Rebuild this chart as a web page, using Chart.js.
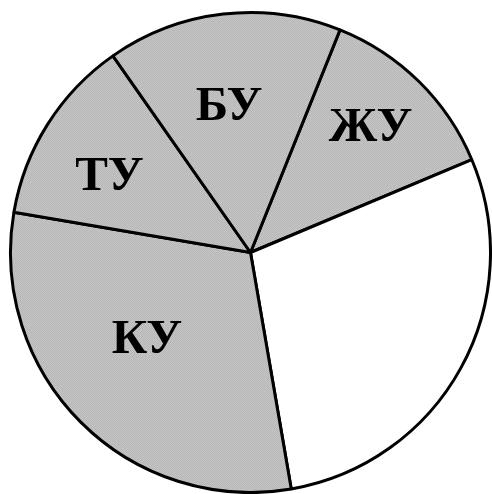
<!DOCTYPE html>
<html>
<head>
<meta charset="utf-8">
<script src="https://cdn.jsdelivr.net/npm/chart.js@4.4.1/dist/chart.umd.min.js"></script>
<style>
  html, body { margin: 0; padding: 0; background: #ffffff; }
  #wrap { width: 492px; height: 494px; position: relative; }
</style>
</head>
<body>
<div id="wrap"><canvas id="c"></canvas></div>
<script>
// Data (clockwise from the ЖУ slice)
const categories = ['ЖУ', '', 'КУ', 'ТУ', 'БУ'];
const shares = [12.6, 28.6, 30.4, 12.6, 15.8];   // percent of the circle

// fine dotted grey texture like the reference
function greyPattern() {
  const p = document.createElement('canvas');
  p.width = 2; p.height = 2;
  const g = p.getContext('2d');
  g.fillStyle = '#c6c6c6'; g.fillRect(0, 0, 2, 2);
  g.fillStyle = '#b6b6b6'; g.fillRect(0, 0, 1, 1); g.fillRect(1, 1, 1, 1);
  return g.createPattern(p, 'repeat');
}
const grey = greyPattern();
const fillColors = [grey, '#ffffff', grey, grey, grey];

// label placement inside each slice: [fraction of the slice angle, fraction of radius]
const labelPlacement = [[0.48, 0.725], null, [0.55, 0.56], [0.42, 0.67], [0.47, 0.62]];

const sliceLabels = {
  id: 'sliceLabels',
  afterDatasetsDraw(chart) {
    const ctx = chart.ctx;
    const meta = chart.getDatasetMeta(0);
    ctx.save();
    ctx.fillStyle = '#000000';
    ctx.font = 'bold 49px "Liberation Serif", "Times New Roman", serif';
    ctx.textAlign = 'center';
    ctx.textBaseline = 'middle';
    meta.data.forEach((arc, i) => {
      const text = chart.data.labels[i];
      const p = labelPlacement[i];
      if (!text || !p) return;
      const {x, y, startAngle, endAngle, outerRadius} = arc.getProps(['x', 'y', 'startAngle', 'endAngle', 'outerRadius'], true);
      const a = startAngle + (endAngle - startAngle) * p[0];
      const r = outerRadius * p[1];
      ctx.fillText(text, x + Math.cos(a) * r, y + Math.sin(a) * r + 2);
    });
    ctx.restore();
  }
};

new Chart(document.getElementById('c'), {
  type: 'pie',
  data: {
    labels: categories,
    datasets: [{
      data: shares,
      backgroundColor: fillColors,
      borderColor: '#000000',
      borderWidth: 3,
      hoverOffset: 0
    }]
  },
  options: {
    responsive: true,
    maintainAspectRatio: false,
    animation: false,
    rotation: 21.9,
    layout: { padding: { left: 9, right: 0, top: 11, bottom: 0 } },
    plugins: {
      legend: { display: false },
      tooltip: { enabled: false },
      title: { display: false }
    },
    events: []
  },
  plugins: [sliceLabels]
});
</script>
</body>
</html>
